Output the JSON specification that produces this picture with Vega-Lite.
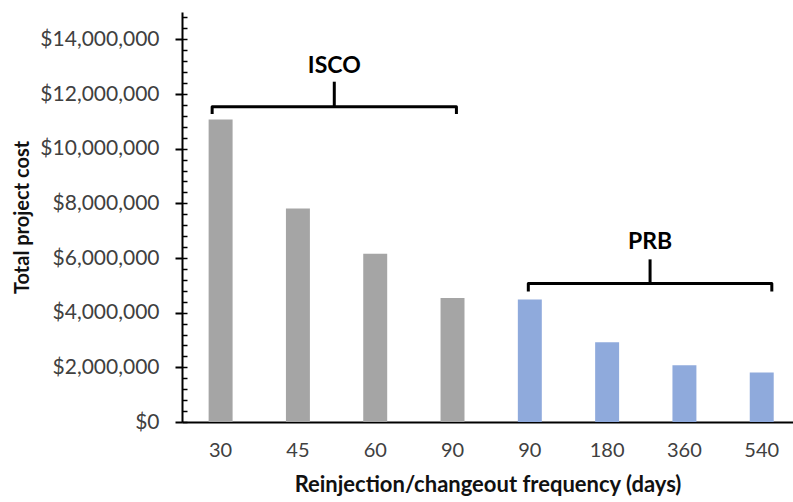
{
  "$schema": "https://vega.github.io/schema/vega-lite/v6.json",
  "width": 611,
  "height": 410,
  "autosize": {"type": "none"},
  "padding": {"left": 182, "top": 12, "right": 0, "bottom": 80},
  "background": "white",
  "config": {"font": "Lato", "view": {"stroke": null}},
  "datasets": {
    "bars": [
      {"key": "ISCO|30", "group": "ISCO", "cost": 11070000},
      {"key": "ISCO|45", "group": "ISCO", "cost": 7810000},
      {"key": "ISCO|60", "group": "ISCO", "cost": 6160000},
      {"key": "ISCO|90", "group": "ISCO", "cost": 4540000},
      {"key": "PRB|90", "group": "PRB", "cost": 4480000},
      {"key": "PRB|180", "group": "PRB", "cost": 2920000},
      {"key": "PRB|360", "group": "PRB", "cost": 2080000},
      {"key": "PRB|540", "group": "PRB", "cost": 1810000}
    ],
    "bracket": [
      {"g": "ISCO", "o": 1, "x": -0.11, "y": 11270000},
      {"g": "ISCO", "o": 2, "x": -0.11, "y": 11530000},
      {"g": "ISCO", "o": 3, "x": 3.05, "y": 11530000},
      {"g": "ISCO", "o": 4, "x": 3.05, "y": 11270000},
      {"g": "PRB", "o": 1, "x": 3.98, "y": 4770000},
      {"g": "PRB", "o": 2, "x": 3.98, "y": 5070000},
      {"g": "PRB", "o": 3, "x": 7.13, "y": 5070000},
      {"g": "PRB", "o": 4, "x": 7.13, "y": 4770000}
    ],
    "groups": [
      {"g": "ISCO", "mid": 1.47, "yBar": 11530000, "yTop": 12450000, "yLabel": 13020000},
      {"g": "PRB", "mid": 5.555, "yBar": 5070000, "yTop": 5950000, "yLabel": 6600000}
    ]
  },
  "resolve": {"scale": {"x": "independent", "y": "independent"}, "axis": {"x": "independent", "y": "independent"}},
  "layer": [
    {
      "data": {"name": "bars"},
      "mark": {"type": "bar"},
      "encoding": {
        "x": {
          "field": "key", "type": "nominal", "sort": null,
          "scale": {"paddingInner": 0.69, "paddingOuter": 0.297, "align": 0.58},
          "axis": {
            "title": "Reinjection/changeout frequency (days)",
            "labelExpr": "split(datum.label, '|')[1]",
            "labelAngle": 0,
            "ticks": false,
            "tickSize": 0,
            "labelPadding": 18,
            "labelFontSize": 20,
            "labelColor": "#404040",
            "domainColor": "#000000",
            "domainWidth": 2,
            "titleFontSize": 22,
            "titleFontWeight": "bold",
            "titleColor": "#111111",
            "titlePadding": 14
          }
        },
        "y": {
          "field": "cost", "type": "quantitative",
          "scale": {"domain": [0, 15000000], "nice": false, "zero": true},
          "axis": {
            "orient": "left",
            "zindex": 1,
            "title": "Total project cost",
            "values": [0, 2000000, 4000000, 6000000, 8000000, 10000000, 12000000, 14000000],
            "format": "$,.0f",
            "labelOverlap": false,
            "grid": false,
            "tickSize": 7,
            "tickWidth": 2,
            "tickColor": "#000000",
            "domainColor": "#000000",
            "domainWidth": 2,
            "labelPadding": 16,
            "labelFontSize": 21,
            "labelColor": "#404040",
            "titleFontSize": 20,
            "titleFontWeight": "bold",
            "titleColor": "#111111",
            "titlePadding": 7
          }
        },
        "color": {
          "field": "group", "type": "nominal",
          "scale": {"domain": ["ISCO", "PRB"], "range": ["#A5A5A5", "#8FAADC"]},
          "legend": null
        }
      }
    },
    {
      "data": {"name": "bars"},
      "mark": {"type": "bar", "opacity": 0},
      "encoding": {
        "x": {"field": "key", "type": "nominal", "sort": null, "axis": null,
              "scale": {"paddingInner": 0.69, "paddingOuter": 0.297, "align": 0.58}},
        "y": {
          "field": "cost", "type": "quantitative",
          "scale": {"domain": [0, 15000000], "nice": false, "zero": true},
          "axis": {
            "orient": "right",
            "offset": -611,
            "zindex": 2,
            "title": null,
            "labels": false,
            "domain": false,
            "grid": false,
            "ticks": true,
            "tickSize": 5,
            "tickWidth": 1.5,
            "tickColor": "#000000",
            "tickOpacity": 1,
            "values": [0, 400000, 800000, 1200000, 1600000, 2000000, 2400000, 2800000, 3200000, 3600000, 4000000, 4400000, 4800000, 5200000, 5600000, 6000000, 6400000, 6800000, 7200000, 7600000, 8000000, 8400000, 8800000, 9200000, 9600000, 10000000, 10400000, 10800000, 11200000, 11600000, 12000000, 12400000, 12800000, 13200000, 13600000, 14000000, 14400000, 14800000]
          }
        }
      }
    },
    {
      "data": {"name": "bracket"},
      "mark": {"type": "line", "color": "#000000", "strokeWidth": 3, "strokeJoin": "round", "strokeCap": "butt"},
      "encoding": {
        "x": {"field": "x", "type": "quantitative", "axis": null,
              "scale": {"domain": [-0.5, 7.404], "nice": false, "zero": false}},
        "y": {"field": "y", "type": "quantitative", "axis": null,
              "scale": {"domain": [0, 15000000], "nice": false, "zero": true}},
        "detail": {"field": "g"},
        "order": {"field": "o"}
      }
    },
    {
      "data": {"name": "groups"},
      "mark": {"type": "rule", "color": "#000000", "strokeWidth": 3},
      "encoding": {
        "x": {"field": "mid", "type": "quantitative", "axis": null,
              "scale": {"domain": [-0.5, 7.404], "nice": false, "zero": false}},
        "y": {"field": "yBar", "type": "quantitative", "axis": null,
              "scale": {"domain": [0, 15000000], "nice": false, "zero": true}},
        "y2": {"field": "yTop"}
      }
    },
    {
      "data": {"name": "groups"},
      "mark": {"type": "text", "fontSize": 23, "fontWeight": "bold", "color": "#000000", "baseline": "middle", "align": "center"},
      "encoding": {
        "x": {"field": "mid", "type": "quantitative", "axis": null,
              "scale": {"domain": [-0.5, 7.404], "nice": false, "zero": false}},
        "y": {"field": "yLabel", "type": "quantitative", "axis": null,
              "scale": {"domain": [0, 15000000], "nice": false, "zero": true}},
        "text": {"field": "g"}
      }
    }
  ]
}
